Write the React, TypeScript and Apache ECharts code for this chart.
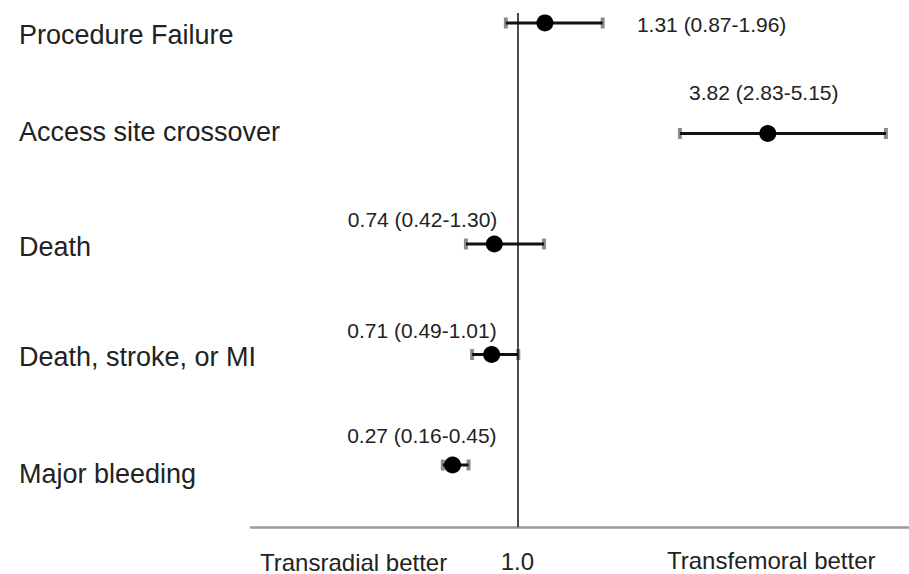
import React, { useEffect, useRef } from "react";
import * as echarts from "echarts";

// ---- data ----
const categories = [
  "Procedure Failure",
  "Access site crossover",
  "Death",
  "Death, stroke, or MI",
  "Major bleeding",
];
const estimates = [1.31, 3.82, 0.74, 0.71, 0.27];
const lowerCI = [0.87, 2.83, 0.42, 0.49, 0.16];
const upperCI = [1.96, 5.15, 1.3, 1.01, 0.45];
const referenceValue = 1.0;
const referenceTickLabel = "1.0";
const leftDirectionLabel = "Transradial better";
const rightDirectionLabel = "Transfemoral better";

// ---- layout / style ----
const FONT = "'Liberation Sans', Arial, Helvetica, sans-serif";
const TEXT = "#222";
const ESTIMATE_LABEL_LAYOUT = [
  { align: "left", offset: [92, 2] },
  { align: "center", offset: [-4, -41] },
  { align: "right", offset: [3, -24] },
  { align: "right", offset: [5, -24] },
  { align: "right", offset: [44, -30] },
];
// vertical nudges (px) for category labels
const CATEGORY_NUDGE = [12, -1, 3, 2, 9];

const fmt = (v: number) => v.toFixed(2);

export default function App() {
  const ref = useRef<HTMLDivElement>(null);
  useEffect(() => {
    if (!ref.current) return;
    const chart = echarts.init(ref.current, undefined, { renderer: "svg" });

    const rich: Record<string, any> = {};
    CATEGORY_NUDGE.forEach((n, i) => {
      rich["r" + i] = {
        fontSize: 27,
        fontFamily: FONT,
        color: TEXT,
        padding: n >= 0 ? [2 * n, 0, 0, 0] : [0, 0, -2 * n, 0],
      };
    });

    chart.setOption({
      animation: false,
      backgroundColor: "#fff",
      grid: { left: 251, right: 0, top: 0, bottom: 47, containLabel: false },
      xAxis: {
        type: "value",
        min: -2,
        max: 5.41,
        axisLine: { show: true, onZero: false, lineStyle: { color: "#9a9a9a", width: 2.5 } },
        axisTick: { show: false },
        splitLine: { show: false },
        axisLabel: {
          customValues: [referenceValue],
          formatter: () => referenceTickLabel,
          fontSize: 24,
          fontFamily: FONT,
          color: TEXT,
          margin: 22,
        },
      },
      yAxis: {
        type: "value",
        inverse: true,
        min: -0.208,
        max: 4.561,
        axisLine: { show: false, onZero: false },
        axisTick: { show: false },
        splitLine: { show: false },
        axisLabel: {
          customValues: categories.map((_, i) => i),
          formatter: (v: number) => {
            const i = Math.round(v);
            return `{r${i}|${categories[i]}}`;
          },
          rich,
          align: "left",
          margin: 232,
        },
      },
      graphic: [
        {
          type: "text",
          left: 260,
          top: 550,
          style: { text: leftDirectionLabel, fontSize: 24, fontFamily: FONT, fill: TEXT },
        },
        {
          type: "text",
          left: 667,
          top: 548,
          style: { text: rightDirectionLabel, fontSize: 24, fontFamily: FONT, fill: TEXT },
        },
      ],
      series: [
        {
          type: "custom",
          z: 2,
          data: categories.map((_, i) => [i, lowerCI[i], upperCI[i]]),
          encode: { x: [1, 2], y: 0 },
          renderItem: (params: any, api: any) => {
            const i = api.value(0);
            const p1 = api.coord([api.value(1), i]);
            const p2 = api.coord([api.value(2), i]);
            return {
              type: "group",
              children: [
                {
                  type: "rect",
                  shape: { x: p1[0] - 2, y: p1[1] - 5.5, width: 4, height: 11 },
                  style: { fill: "#8c8c8c" },
                },
                {
                  type: "rect",
                  shape: { x: p2[0] - 2, y: p2[1] - 5.5, width: 4, height: 11 },
                  style: { fill: "#8c8c8c" },
                },
                {
                  type: "line",
                  shape: { x1: p1[0], y1: p1[1], x2: p2[0], y2: p2[1] },
                  style: { stroke: "#111", lineWidth: 3 },
                },
              ],
            };
          },
          markLine: {
            silent: true,
            symbol: ["none", "none"],
            label: { show: false },
            lineStyle: { color: "#111", width: 1.5, type: "solid" },
            data: [
              [
                { coord: [referenceValue, -0.09] },
                { coord: [referenceValue, 4.561] },
              ],
            ],
          },
        },
        {
          type: "scatter",
          z: 3,
          symbolSize: 17,
          itemStyle: { color: "#000", opacity: 1 },
          data: estimates.map((v, i) => ({
            value: [v, i],
            label: {
              align: ESTIMATE_LABEL_LAYOUT[i].align,
              offset: ESTIMATE_LABEL_LAYOUT[i].offset,
            },
          })),
          label: {
            show: true,
            position: "inside",
            verticalAlign: "middle",
            fontSize: 21,
            fontFamily: FONT,
            color: TEXT,
            formatter: (p: any) => {
              const i = p.dataIndex;
              return `${fmt(estimates[i])} (${fmt(lowerCI[i])}-${fmt(upperCI[i])})`;
            },
          },
        },
      ],
    });
    return () => chart.dispose();
  }, []);

  return (
    <div
      ref={ref}
      style={{ position: "fixed", left: 0, top: 0, width: 909, height: 574, background: "#fff" }}
    />
  );
}
